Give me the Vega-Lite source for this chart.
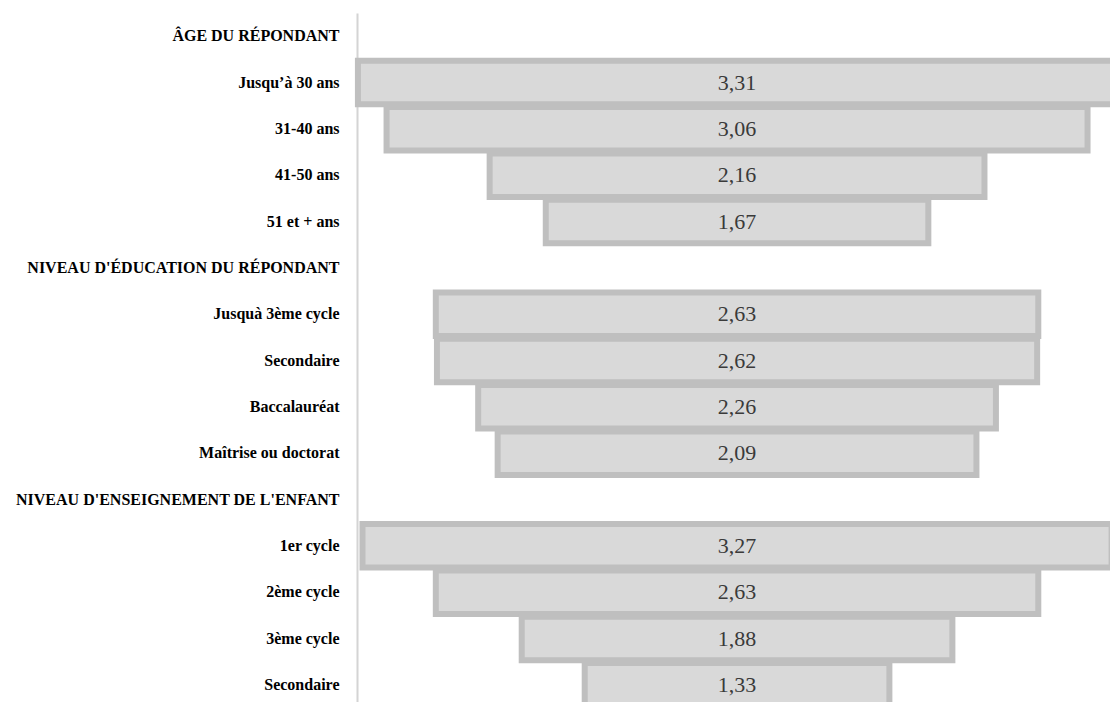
{
  "$schema": "https://vega.github.io/schema/vega-lite/v6.json",
  "autosize": {"type": "none"},
  "width": 753,
  "height": 695,
  "padding": {"left": 357, "top": 13, "right": 0, "bottom": 0},
  "background": "white",
  "config": {
    "view": {"stroke": null},
    "locale": {"number": {"decimal": ",", "thousands": " ", "grouping": [3], "currency": ["", " €"]}}
  },
  "data": {
    "values": [
      {"key": "ÂGE DU RÉPONDANT", "value": null},
      {"key": "Jusqu’à 30 ans", "value": 3.31},
      {"key": "31-40 ans", "value": 3.06},
      {"key": "41-50 ans", "value": 2.16},
      {"key": "51 et + ans", "value": 1.67},
      {"key": "NIVEAU D'ÉDUCATION DU RÉPONDANT", "value": null},
      {"key": "Jusquà 3ème cycle", "value": 2.63},
      {"key": "Secondaire#1", "value": 2.62},
      {"key": "Baccalauréat", "value": 2.26},
      {"key": "Maîtrise ou doctorat", "value": 2.09},
      {"key": "NIVEAU D'ENSEIGNEMENT DE L'ENFANT", "value": null},
      {"key": "1er cycle", "value": 3.27},
      {"key": "2ème cycle", "value": 2.63},
      {"key": "3ème cycle", "value": 1.88},
      {"key": "Secondaire#2", "value": 1.33}
    ]
  },
  "encoding": {
    "y": {
      "field": "key",
      "type": "nominal",
      "scale": {
        "domain": ["ÂGE DU RÉPONDANT", "Jusqu’à 30 ans", "31-40 ans", "41-50 ans", "51 et + ans", "NIVEAU D'ÉDUCATION DU RÉPONDANT", "Jusquà 3ème cycle", "Secondaire#1", "Baccalauréat", "Maîtrise ou doctorat", "NIVEAU D'ENSEIGNEMENT DE L'ENFANT", "1er cycle", "2ème cycle", "3ème cycle", "Secondaire#2"],
        "paddingInner": 0.06,
        "paddingOuter": 0.03
      },
      "axis": {
        "title": null,
        "ticks": false,
        "labelPadding": 18,
        "labelFont": "Liberation Serif",
        "labelFontSize": 16,
        "labelFontWeight": "bold",
        "labelColor": "#000000",
        "labelExpr": "replace(replace(datum.value, '#1', ''), '#2', '')",
        "domainColor": "#d4d4d4",
        "domainWidth": 2,
        "grid": false,
        "labelLimit": 400
      }
    }
  },
  "layer": [
    {
      "transform": [{"filter": "datum.value != null"}],
      "mark": {"type": "bar", "fill": "#d9d9d9", "stroke": "#bfbfbf", "strokeWidth": 6},
      "encoding": {
        "x": {
          "field": "value",
          "type": "quantitative",
          "stack": "center",
          "scale": {"domain": [-0.004, 3.283], "zero": false, "nice": false},
          "axis": null
        }
      }
    },
    {
      "transform": [{"filter": "datum.value != null"}],
      "mark": {"type": "text", "font": "Liberation Serif", "fontSize": 22, "color": "#3a3a3a", "align": "center", "baseline": "middle"},
      "encoding": {
        "x": {
          "field": "value",
          "type": "quantitative",
          "stack": "center",
          "bandPosition": 0.5
        },
        "text": {"field": "value", "type": "quantitative", "format": ".2f"}
      }
    }
  ]
}
